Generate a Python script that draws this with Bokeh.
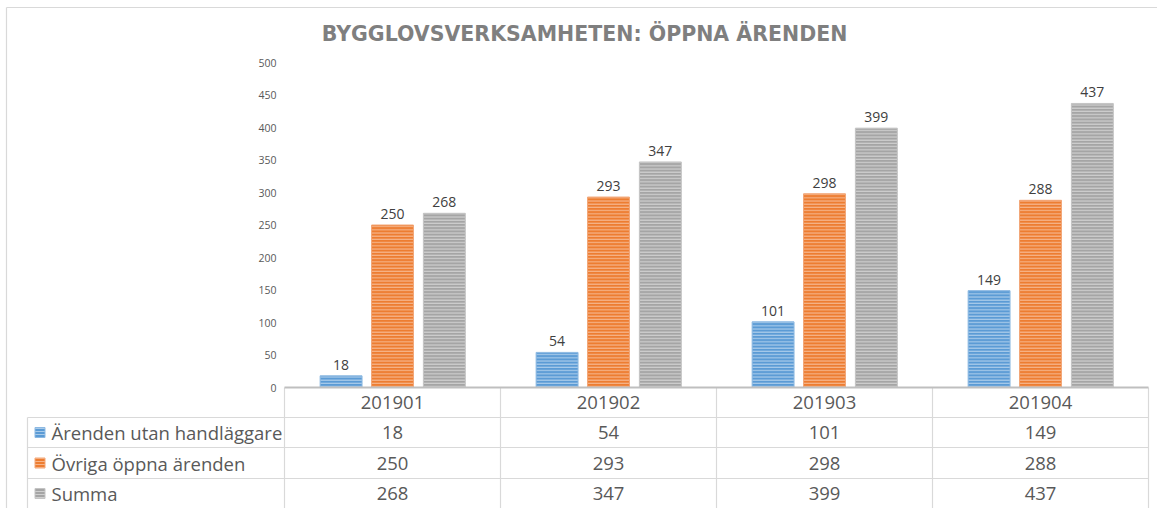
from bokeh.plotting import figure
from bokeh.models import Range1d, Label, ColumnDataSource
from bokeh.core.properties import value
from bokeh.embed import file_html
from bokeh.resources import INLINE

# ---- data ----
categories = ["201901", "201902", "201903", "201904"]
series_names = ["Ärenden utan handläggare", "Övriga öppna ärenden", "Summa"]
utan_handlaggare = [18, 54, 101, 149]
ovriga = [250, 293, 298, 288]
summa = [268, 347, 399, 437]
y_ticks = [0, 50, 100, 150, 200, 250, 300, 350, 400, 450, 500]
title_text = "BYGGLOVSVERKSAMHETEN: ÖPPNA ÄRENDEN"

series_values = [utan_handlaggare, ovriga, summa]
fills = ["#5B9BD5", "#ED7D31", "#A5A5A5"]
hatches = ["#A9CBEA", "#F6B48A", "#CFCFCF"]
edges = ["#8DB9E2", "#F2A677", "#C4C4C4"]

W, H = 1157, 508
# layout conversion (pixels -> data units)
X0_PX, CAT_PX = 284, 216
Y0_PX, PX_PER_UNIT = 387, 0.65
def px2x(px):
    return (px - X0_PX) / CAT_PX
def py2y(py):
    return (Y0_PX - py) / PX_PER_UNIT

p = figure(width=W, height=H, output_backend="svg", toolbar_location=None,
           x_range=Range1d(px2x(0), px2x(W)), y_range=Range1d(py2y(H), py2y(0)),
           min_border=0, min_border_left=0, min_border_right=0,
           min_border_top=0, min_border_bottom=0)
p.axis.visible = False
p.grid.visible = False
p.outline_line_color = None
p.background_fill_color = "white"
p.border_fill_color = "white"

# outer frame lines (left and top)
p.segment(x0=[px2x(6), px2x(6)], y0=[py2y(7), py2y(7)],
          x1=[px2x(6), px2x(W)], y1=[py2y(H), py2y(7)],
          line_color="#D9D9D9", line_width=1.2)

# bars
offsets = [-0.238, 0.0, 0.240]
bar_w = 0.194
for vals, off, fc, hc, ec in zip(series_values, offsets, fills, hatches, edges):
    xs = [i + 0.5 + off for i in range(len(categories))]
    src = ColumnDataSource(dict(x=xs, top=vals, lab=[str(v) for v in vals]))
    p.vbar(x="x", top="top", bottom=0, width=bar_w, source=src,
           fill_color=fc, line_color=ec, line_width=1,
           hatch_pattern="horizontal_line", hatch_color=hc,
           hatch_scale=3.2, hatch_weight=1.2)
    p.text(x="x", y="top", text="lab", source=src, text_align="center",
           text_baseline="bottom", y_offset=-6, text_font=value("Open Sans"),
           text_font_size="14px", text_color="#404040")

# y tick labels
p.text(x=[px2x(276)] * len(y_ticks), y=y_ticks, text=[str(t) for t in y_ticks],
       text_align="right", text_baseline="middle",
       text_font=value("Open Sans"), text_font_size="10.5px", text_color="#595959")

# table
n = len(categories)
row_px = [387, 417, 447, 478, 508]
bounds = [py2y(v) for v in row_px]
left_x = px2x(27)
# vertical lines
vx0 = list(range(n + 1)) + [left_x]
vy0 = [bounds[0]] * (n + 1) + [bounds[1]]
p.segment(x0=vx0, y0=vy0, x1=vx0, y1=[bounds[-1]] * (n + 2),
          line_color="#D9D9D9", line_width=1.2)
# horizontal row lines
p.segment(x0=[left_x] * 3, y0=bounds[1:4], x1=[n] * 3, y1=bounds[1:4],
          line_color="#D9D9D9", line_width=1.2)
# axis baseline
p.segment(x0=[0], y0=[0], x1=[n], y1=[0], line_color="#BFBFBF", line_width=2)

row_centers = [(bounds[k] + bounds[k + 1]) / 2 for k in range(4)]
# header row
p.text(x=[i + 0.5 for i in range(n)], y=[row_centers[0]] * n, text=categories,
       text_align="center", text_baseline="middle",
       text_font=value("Open Sans"), text_font_size="18.5px", text_color="#595959")
# data rows
for k, (name, vals, fc, hc, ec) in enumerate(zip(series_names, series_values, fills, hatches, edges)):
    yc = row_centers[k + 1]
    p.text(x=[i + 0.5 for i in range(n)], y=[yc] * n, text=[str(v) for v in vals],
           text_align="center", text_baseline="middle",
           text_font=value("Open Sans"), text_font_size="18.5px", text_color="#595959")
    p.rect(x=[px2x(39.5)], y=[yc], width=10, height=10,
           width_units="screen", height_units="screen",
           fill_color=fc, line_color=ec, hatch_pattern="horizontal_line",
           hatch_color=hc, hatch_scale=3, hatch_weight=1)
    p.text(x=[px2x(51)], y=[yc], text=[name], text_align="left",
           text_baseline="middle", text_font=value("Open Sans"),
           text_font_size="18.5px", text_color="#595959")

# title
p.add_layout(Label(x=584, y=H - 33, x_units="screen", y_units="screen",
                   text=title_text, text_align="center", text_baseline="middle",
                   text_font="DejaVu Sans", text_font_style="bold",
                   text_font_size="20.5px", text_color="#7F7F7F"))

open("out.html", "w").write(file_html(p, INLINE))
